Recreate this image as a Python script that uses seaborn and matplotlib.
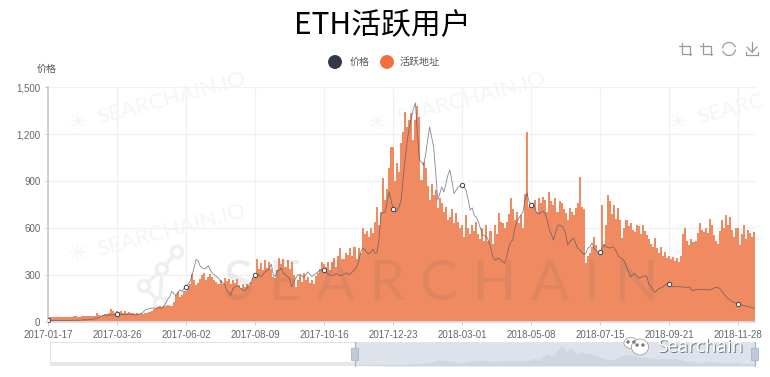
# Libraries
# ===================================================
import pandas as pd
import seaborn as sns
import matplotlib
matplotlib.use('Agg')
import matplotlib.pyplot as plt
import matplotlib.lines as mlines
import matplotlib.patches as mpatches

# Data (one value every two days, one row per x axis tick interval)
# ===================================================
active = [
    28,30,30,31,30,31,32,32,33,33,34,33,35,36,36,35,34,36,37,36,38,40,38,36,55,42,40,46,52,48,55,85,70,60,
    70,62,68,58,72,60,65,56,60,52,55,50,55,52,60,58,62,70,80,90,95,100,95,105,100,110,105,100,130,170,190,160,175,200,
    195,215,240,305,270,235,250,275,300,315,270,290,305,285,270,255,240,265,245,280,260,275,240,265,250,275,235,220,245,225,240,230,255,280,
    310,400,340,375,330,395,345,385,340,290,280,330,410,370,405,350,395,340,385,300,225,265,300,255,310,270,285,250,265,245,295,310,340,385,
    370,350,380,330,385,410,350,420,470,400,400,440,430,470,420,480,400,470,440,600,560,580,540,600,570,640,735,620,700,920,780,850,980,1115,
    1115,900,1015,960,1140,1210,1340,1245,1290,1335,1160,1290,1378,1310,906,1020,985,870,780,880,810,840,730,790,760,700,735,650,670,720,630,695,640,600,
    620,545,680,600,560,620,580,640,560,530,600,520,620,515,580,500,620,560,695,640,630,600,640,690,790,720,650,700,630,680,600,820,1210,735,
    735,746,780,700,790,760,800,780,700,832,770,750,790,700,770,760,720,695,650,725,700,680,725,760,926,735,720,375,420,438,480,545,490,450,
    450,746,500,620,810,770,690,746,660,725,650,535,600,650,610,630,590,575,620,610,560,620,580,555,530,500,480,535,470,440,480,420,450,410,
    420,400,415,390,410,380,420,560,600,520,490,530,510,515,570,630,590,575,600,570,660,620,555,520,500,580,650,600,680,620,670,590,545,600,
    600,490,560,620,530,590,565,540,575,
]
price = [
    15,11,10,10,10,10,10,10,10,10,10,10,11,11,11,11,12,13,14,13,15,15,17,20,24,28,35,42,45,43,42,46,44,48,
    50,52,50,48,47,48,50,48,47,46,48,50,55,65,78,82,85,88,90,88,90,92,88,100,120,145,165,195,180,170,190,205,195,215,
    225,240,260,300,350,400,390,355,345,340,345,360,330,310,300,290,280,260,250,240,200,190,170,210,225,230,225,215,205,200,215,235,255,285,
    300,305,300,290,305,320,330,340,370,300,290,330,330,345,310,300,290,280,225,250,280,300,305,295,285,300,320,305,290,300,310,320,330,335,
    335,320,305,300,295,300,310,300,295,300,305,315,300,310,320,335,350,385,445,470,465,445,435,445,465,440,440,520,690,700,700,760,830,780,
    720,700,710,735,780,925,1050,1160,1240,1300,1360,1398,1200,1034,1020,1000,1065,1160,1245,1180,1115,955,778,820,862,830,880,937,970,900,820,840,860,870,
    875,860,840,780,715,728,680,670,640,600,555,550,545,520,480,420,395,400,408,395,385,376,420,480,510,525,600,640,665,683,700,780,823,770,
    750,760,720,695,690,700,708,690,650,588,560,523,570,613,620,613,600,560,493,510,525,535,500,470,460,445,430,440,472,480,505,470,455,450,
    450,470,493,480,475,472,480,470,450,420,410,400,388,350,320,287,300,312,295,280,285,290,294,290,240,229,205,190,200,215,217,225,235,245,
    245,230,224,228,225,226,224,222,224,220,224,205,200,208,206,208,208,207,208,206,204,210,216,221,220,212,195,180,165,150,140,130,125,120,
    118,112,108,105,100,98,95,90,88,
]
tick_labels = ['2017-01-17', '2017-03-26', '2017-06-02', '2017-08-09', '2017-10-16', '2017-12-23',
               '2018-03-01', '2018-05-08', '2018-07-15', '2018-09-21', '2018-11-28']
y_ticks = [0, 300, 600, 900, 1200, 1500]

df = pd.DataFrame({'date': pd.date_range('2017-01-17', periods=len(active), freq='2D').strftime('%Y-%m-%d'),
                   'active': active, 'price': price})
df['idx'] = range(len(df))
dft = df[df['date'].isin(tick_labels)]

# Helpers, positions in image pixels
# ===================================================
W, H = 770, 377
def fx(x): return x / W
def fy(y): return 1 - y / H

CJK = ['Noto Sans CJK SC', 'DejaVu Sans']

sns.set_theme(style='white')
plt.rcParams['font.family'] = ['Liberation Sans', 'Noto Sans CJK SC']

fig = plt.figure(figsize=(W / 100, H / 100), dpi=100, facecolor='white')

def px_line(xs, ys, color='#999999', lw=0.9, zorder=6):
    fig.add_artist(mlines.Line2D([fx(v) for v in xs], [fy(v) for v in ys], color=color, lw=lw, zorder=zorder))

# Watermark behind the chart
# ===================================================
for x0, y0, mark in [(98, 118, 'SEARCHAIN.IO'), (398, 118, 'SEARCHAIN.IO'), (698, 118, 'SEARC'),
                     (98, 250, 'SEARCHAIN.IO'), (698, 250, 'SEARC')]:
    fig.text(fx(x0), fy(y0), mark, fontsize=16, color='#f5f5f5', rotation=15, rotation_mode='anchor',
             family='Lato', ha='left', va='center', zorder=0)
    fig.text(fx(x0 - 20), fy(y0 + 4), '✳', fontsize=17, color='#f5f5f5', family='DejaVu Sans',
             ha='center', va='center', zorder=0)

# Main chart
# ===================================================
ax = fig.add_axes([fx(48), fy(322), (755 - 48) / W, (322 - 87) / H], zorder=2)
ax.patch.set_alpha(0)
sns.barplot(data=df, x='date', y='active', color='#f08a60', saturation=1, width=1, linewidth=0, ax=ax, zorder=2)
sns.lineplot(data=df, x='idx', y='price', color='#4f5566', linewidth=0.6, alpha=0.7, ax=ax, zorder=3)
sns.scatterplot(data=dft, x='idx', y='price', s=10, color='white', edgecolor='#3a4050', linewidth=0.7, ax=ax, zorder=4)

ax.set_xlim(0, 348.3)
ax.set_ylim(0, 1500)
ax.set_xticks(dft['idx'].tolist(), tick_labels)
ax.set_yticks(y_ticks, [f'{v:,}' for v in y_ticks])
ax.set_xlabel('')
ax.set_ylabel('')
ax.grid(True, color='#f1f1f1', linewidth=0.9)
ax.set_axisbelow(True)
ax.tick_params(axis='both', labelsize=7, labelcolor='#666666', length=2.5, width=0.7, color='#c8c8c8', pad=3, bottom=True, left=True)
sns.despine(ax=ax, top=True, right=True)
ax.spines['left'].set_color('#cccccc')
ax.spines['bottom'].set_color('#dddddd')

# Big watermark over the bars
# ===================================================
fig.text(fx(441), fy(285), 'S E A R C H A I N', fontsize=41, color='#6b6b6b', alpha=0.12, family='Lato',
         ha='center', va='center', zorder=5)
nodes_x = [177, 162, 144, 160]
nodes_y = [252, 269, 286, 303]
px_line(nodes_x[:2] + [nodes_x[3]], nodes_y[:2] + [nodes_y[3]], color='#efefef', lw=2.5, zorder=1)
px_line([nodes_x[1], nodes_x[2], nodes_x[3]], [nodes_y[1], nodes_y[2], nodes_y[3]], color='#efefef', lw=2.5, zorder=1)
for nx, ny in zip(nodes_x, nodes_y):
    fig.add_artist(mpatches.Ellipse((fx(nx), fy(ny)), 11 / W, 11 / H, facecolor='white', edgecolor='#efefef', lw=2.5,
                                    transform=fig.transFigure, zorder=1))

# Titles and legend
# ===================================================
fig.text(fx(382), fy(26), 'ETH活跃用户', fontsize=21.5, color='black', family=CJK, ha='center', va='center')
fig.text(fx(47), fy(69), '价格', fontsize=7.2, color='#555555', family=CJK, ha='center', va='center')
for cx, col in [(335, '#323848'), (387, '#f0703f')]:
    fig.add_artist(mpatches.Ellipse((fx(cx), fy(62)), 12.5 / W, 12.5 / H, color=col, transform=fig.transFigure))
fig.text(fx(350), fy(62), '价格', fontsize=7.2, color='#555555', family=CJK, ha='left', va='center')
fig.text(fx(400), fy(62), '活跃地址', fontsize=7.2, color='#555555', family=CJK, ha='left', va='center')

# Toolbox icons
# ===================================================
for x0 in [680, 701]:
    px_line([x0 - 1, x0 + 10, x0 + 10], [46, 46, 55])
    px_line([x0 + 2, x0 + 2, x0 + 11], [43, 54, 54])
fig.add_artist(mpatches.Arc((fx(729), fy(49)), 13 / W, 13 / H, theta1=30, theta2=170, color='#999999', lw=0.9,
                            transform=fig.transFigure, zorder=6))
fig.add_artist(mpatches.Arc((fx(729), fy(49)), 13 / W, 13 / H, theta1=210, theta2=350, color='#999999', lw=0.9,
                            transform=fig.transFigure, zorder=6))
px_line([752, 752], [42, 52])
px_line([747, 752, 757], [47, 52, 47])
px_line([746, 746, 758, 758], [52, 55, 55, 52])

# Zoom slider
# ===================================================
sl = fig.add_axes([fx(50), fy(366), (755 - 50) / W, 24 / H], zorder=3)
sl.set_xlim(-1, 1)
sl.set_ylim(0, 1)
sl.axis('off')
sl.add_patch(mpatches.Rectangle((0, 0), 1, 1, transform=sl.transAxes, facecolor='white', edgecolor='#e3e3e3', lw=0.8))
sl.add_patch(mpatches.Rectangle((0, 0), 1, 4 / 24, transform=sl.transAxes, facecolor='#e6e6e6', edgecolor='none'))

# selected range holds the same price series
sel = fig.add_axes([fx(355), fy(366), 400 / W, 24 / H], zorder=4)
sel.set_facecolor('#dde2eb')
sns.lineplot(data=df, x='idx', y='price', color='#cdd4df', linewidth=0.6, ax=sel)
sel.fill_between(df['idx'], df['price'], color='#d0d6e0', linewidth=0)
sel.set_xlim(0, len(df) - 1)
sel.set_ylim(0, 1770)
sel.set_xticks([])
sel.set_yticks([])
sel.set_xlabel('')
sel.set_ylabel('')
sns.despine(ax=sel, left=True, bottom=True)

for hx in [355, 755]:
    px_line([hx, hx], [342, 366], color='#a9b4c8', lw=0.9, zorder=7)
    fig.add_artist(mpatches.FancyBboxPatch((fx(hx - 2), fy(360)), 4 / W, 11 / H, boxstyle='round,pad=0.002',
                                           facecolor='#c0c9d8', edgecolor='#a9b4c8', lw=0.6,
                                           transform=fig.transFigure, zorder=7))

# Searchain stamp
# ===================================================
for (ex, ey, ew, eh) in [(631, 343, 14, 11), (640, 347, 17, 16)]:
    fig.add_artist(mpatches.Ellipse((fx(ex), fy(ey)), ew / W, eh / H, facecolor='white', edgecolor='#8f8f8f', lw=0.5,
                                    transform=fig.transFigure, zorder=8))
for (ex, ey) in [(628, 342), (634, 342), (637, 345), (643, 345)]:
    fig.add_artist(mpatches.Ellipse((fx(ex), fy(ey)), 2 / W, 2 / H, color='#777777', transform=fig.transFigure, zorder=8))
fig.text(fx(657.7), fy(347.7), 'Searchain', fontsize=13.5, color='#6f7784', family='Open Sans', ha='left', va='center', zorder=8)
fig.text(fx(657), fy(347), 'Searchain', fontsize=13.5, color='white', family='Open Sans', ha='left', va='center', zorder=9)

# Save
plt.savefig('out.png', dpi=100)
